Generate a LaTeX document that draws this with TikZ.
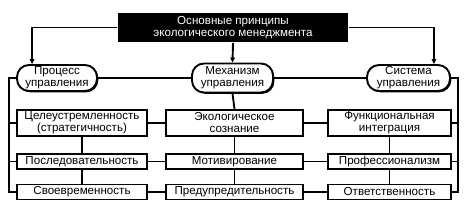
\documentclass[tikz,border=0pt]{standalone}
\usepackage{fontspec}
\setmainfont{Liberation Sans}
\usepackage{tikz}
\usetikzlibrary{arrows.meta, shadows}
\tikzset{
  head/.style={fill=black, text=white, minimum width=230pt, minimum height=29pt, inner sep=0pt, align=center},
  oval/.style={draw, fill=white, rounded corners=12pt, minimum height=26pt, inner sep=0pt, align=center,
               drop shadow={shadow xshift=1.3pt, shadow yshift=-1.3pt, fill=black, opacity=1}},
  card/.style={draw, fill=white, inner sep=0pt, align=center},
}

\begin{document}
\begin{tikzpicture}[x=1pt, y=-1pt, line width=1.9pt, font=\fontsize{11.6}{12}\selectfont,
      >={Triangle[length=5pt, width=4.5pt]}]
      \useasboundingbox (0,0) rectangle (468,213);
      \node[head] (top) at (233,27.5) {Основные принципы\\экологического менеджмента};

      \node[oval, minimum width=80pt] (p1) at (57,78) {Процесс\\управления};
      \node[oval, minimum width=81pt, minimum height=29pt] (p2) at (232.5,78) {Механизм\\управления};
      \node[oval, minimum width=83pt] (p3) at (408.5,78) {Система\\управления};

      \node[card, minimum width=130pt, minimum height=26pt] (a1) at (82,123) {Целеустремленность\\(стратегичность)};
      \node[card, minimum width=130pt, minimum height=15pt] (b1) at (82,161.5) {Последовательность};
      \node[card, minimum width=130pt, minimum height=15pt] (c1) at (82,192) {Своевременность};
      \node[card, minimum width=137pt, minimum height=26pt] (a2) at (234.5,123) {Экологическое\\сознание};
      \node[card, minimum width=137pt, minimum height=15pt] (b2) at (234.5,161.5) {Мотивирование};
      \node[card, minimum width=137pt, minimum height=15pt] (c2) at (234.5,192) {Предупредительность};
      \node[card, minimum width=123pt, minimum height=26pt] (a3) at (389.5,123) {Функциональная\\интеграция};
      \node[card, minimum width=123pt, minimum height=15pt] (b3) at (389.5,161.5) {Профессионализм};
      \node[card, minimum width=123pt, minimum height=15pt] (c3) at (389.5,192) {Ответственность};

      \draw[->] (top.west) -| ([xshift=16pt]p1.north west);
      \draw[->] (top.east) -| ([xshift=-17pt]p3.north east);
      \draw[->] (top.south) -- (p2.north);

      \draw (p1.east) -- (p2.west) (p2.east) -- (p3.west);
      \draw (p1.west) -- ++(-7,0) |- (c1.west);
      \draw (a1.west) -- ++(-7,0) (b1.west) -- ++(-7,0);
      \draw (p3.east) -- ++(7,0) |- (c3.east);
      \draw (a3.east) -- ++(6,0) (b3.east) -- ++(6,0);

      \draw (p2.south) -- (a2.north);
      \draw (a1.south) -- (b1.north) (b1.south) -- (c1.north);
      \draw (a2.south) -- (b2.north) (b2.south) -- (c2.north);
      \draw (a3.south) -- (b3.north) (b3.south) -- (c3.north);
      \draw (a1) -- (a2) -- (a3) (b1) -- (b2) -- (b3) (c1) -- (c2) -- (c3);
    \end{tikzpicture}
\end{document}
